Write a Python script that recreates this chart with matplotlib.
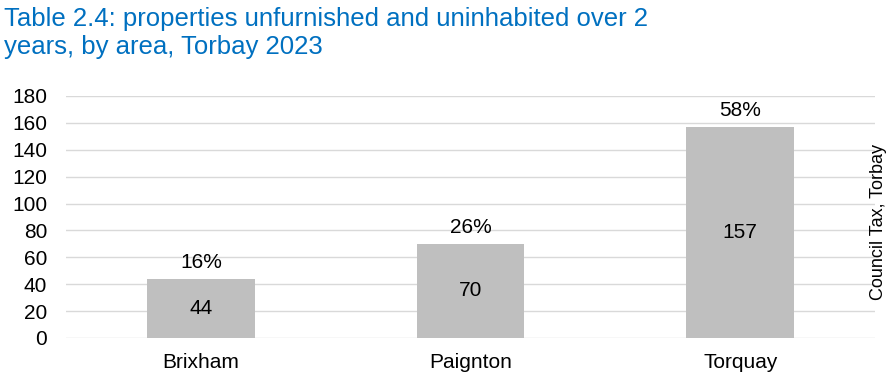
import numpy as np
import matplotlib.pyplot as plt

plt.rcParams['font.family'] = ['Liberation Sans', 'DejaVu Sans']

areas = ['Brixham', 'Paignton', 'Torquay']
counts = [44, 70, 157]
shares = ['16%', '26%', '58%']
yticks = [0, 20, 40, 60, 80, 100, 120, 140, 160, 180]

fig = plt.figure(figsize=(8.96, 3.86), dpi=100)
ax = fig.add_axes([0.0737, 0.1244, 0.9029, 0.6269])

x = np.arange(len(areas))
bars = ax.bar(x, counts, width=0.4, color='#bfbfbf', zorder=2)

for xi, c, s in zip(x, counts, shares):
    ax.text(xi, c / 2, str(c), ha='center', va='center', fontsize=15, color='#000000', zorder=3)
    ax.text(xi, c + 12.5, s, ha='center', va='center', fontsize=15, color='#000000', zorder=3)

ax.set_xlim(-0.5, 2.5)
ax.set_ylim(0, 180)
ax.set_yticks(yticks)
ax.set_xticks(x)
ax.set_xticklabels(areas)
ax.tick_params(axis='both', length=0, labelsize=15, colors='#000000')
ax.tick_params(axis='y', pad=13.5)
ax.tick_params(axis='x', pad=11)
ax.grid(axis='y', color='#d9d9d9', linewidth=1, zorder=0)
for sp in ax.spines.values():
    sp.set_visible(False)

fig.text(0.005, 0.915, 'Table 2.4: properties unfurnished and uninhabited over 2\nyears, by area, Torbay 2023',
         ha='left', va='center', fontsize=18.5, color='#0070c0', linespacing=1.22)
fig.text(0.981, 0.425, 'Council Tax, Torbay', rotation=90, ha='center', va='center', fontsize=13, color='#000000')

fig.savefig('out.png', dpi=100)
